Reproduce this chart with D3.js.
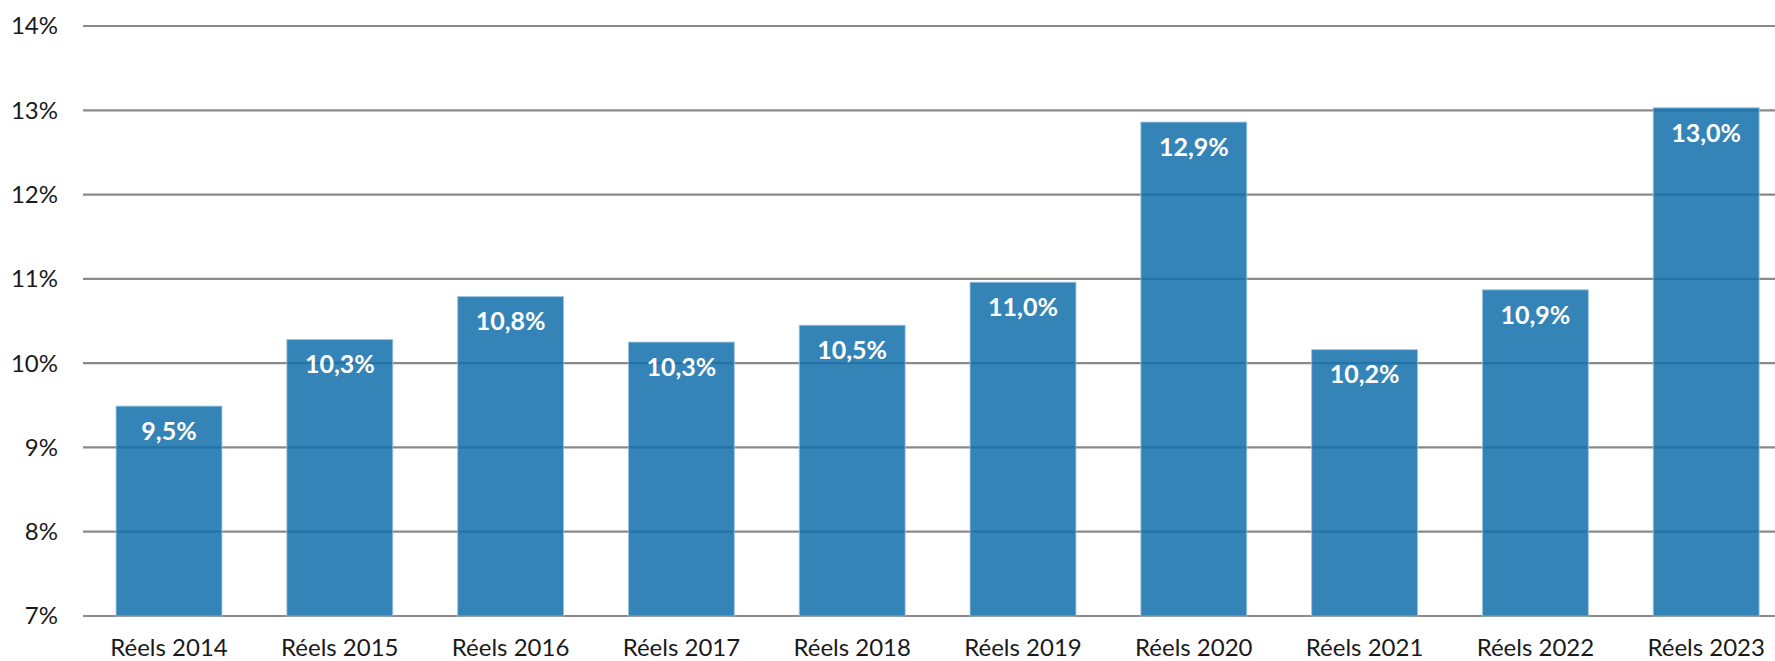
<!DOCTYPE html>
<html><head><meta charset="utf-8">
<script src="https://cdn.jsdelivr.net/npm/d3@7"></script>
<style>
html,body{margin:0;padding:0;background:#fff;}
svg{display:block;}
</style></head>
<body>
<svg id="chart" width="1775" height="661"></svg>
<script>
const categories = ["Réels 2014","Réels 2015","Réels 2016","Réels 2017","Réels 2018","Réels 2019","Réels 2020","Réels 2021","Réels 2022","Réels 2023"];
const values = [9.49, 10.28, 10.79, 10.25, 10.45, 10.96, 12.86, 10.16, 10.87, 13.03];
const valueLabels = ["9,5%","10,3%","10,8%","10,3%","10,5%","11,0%","12,9%","10,2%","10,9%","13,0%"];
const yTicks = [7, 8, 9, 10, 11, 12, 13, 14];
const yTickLabels = ["7%","8%","9%","10%","11%","12%","13%","14%"];

const svg = d3.select("#chart");
const W = 1775, H = 661;
const gridLeft = 83;

const x = d3.scaleBand().domain(categories).range([83.6, 1791.6]).paddingInner(0.38).paddingOuter(0.19);
const y = d3.scaleLinear().domain([7, 14]).range([616, 26]);

// gridlines
svg.append("g").selectAll("line").data(yTicks).join("line")
  .attr("x1", gridLeft).attr("x2", W)
  .attr("y1", d => y(d)).attr("y2", d => y(d))
  .attr("stroke", "#8a8a8a").attr("stroke-width", 2.2);

// y tick labels
svg.append("g").selectAll("text").data(yTicks).join("text")
  .attr("x", 58).attr("y", d => y(d)).attr("dy", "0.35em")
  .attr("text-anchor", "end")
  .attr("font-family", "Lato, sans-serif").attr("font-size", 24)
  .attr("fill", "#1a1a1a")
  .text((d, i) => yTickLabels[i]);

// bars
svg.append("g").selectAll("rect").data(values).join("rect")
  .attr("x", (d, i) => x(categories[i]))
  .attr("width", x.bandwidth())
  .attr("y", d => y(d))
  .attr("height", d => y(7) - y(d))
  .attr("fill", "rgb(17,111,171)")
  .attr("fill-opacity", 0.85)
  .attr("stroke", "#9cc4e0").attr("stroke-width", 1).attr("stroke-opacity", 0.8);

// value labels
svg.append("g").selectAll("text").data(values).join("text")
  .attr("x", (d, i) => x(categories[i]) + x.bandwidth() / 2)
  .attr("y", d => y(d) + 25).attr("dy", "0.35em")
  .attr("text-anchor", "middle")
  .attr("font-family", "Lato, sans-serif").attr("font-weight", "bold").attr("font-size", 25)
  .attr("fill", "#fff")
  .text((d, i) => valueLabels[i]);

// category labels
svg.append("g").selectAll("text").data(categories).join("text")
  .attr("x", d => x(d) + x.bandwidth() / 2)
  .attr("y", 656)
  .attr("text-anchor", "middle")
  .attr("font-family", "Lato, sans-serif").attr("font-size", 24)
  .attr("fill", "#1a1a1a")
  .text(d => d);
</script>
</body></html>
